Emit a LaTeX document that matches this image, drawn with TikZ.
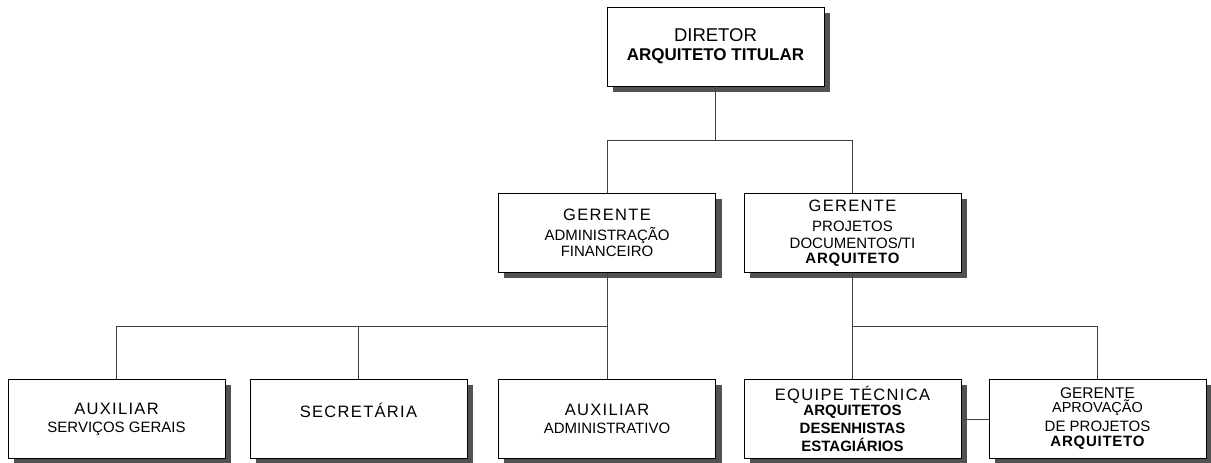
\documentclass[tikz,border=0pt]{standalone}
\usepackage{fontspec}
\setmainfont{Liberation Sans}
\usetikzlibrary{calc}

\newcommand{\titulo}[1]{{\fontsize{16.5}{18}\selectfont\addfontfeature{LetterSpace=8}#1}}
\newcommand{\destaque}[1]{{\bfseries\addfontfeature{LetterSpace=5}#1}}

\begin{document}
\begin{tikzpicture}[x=1pt, y=-1pt,
    cargo/.style={draw, line width=0.8pt, fill=white, minimum width=217pt, minimum height=79pt,
      inner sep=0pt, align=center, font=\fontsize{15}{18}\selectfont},
    sombra/.style={fill=black!68},
    linha/.style={draw=black!75, line width=0.8pt}]
  \useasboundingbox (0,0) rectangle (1211,463);

  % Diretor
  \node[cargo] (dir) at (715.5,46.5) {{\fontsize{18.5}{18}\selectfont DIRETOR}\\[1pt]{\fontsize{17}{18}\selectfont\bfseries ARQUITETO TITULAR}};

  % Gerentes
  \node[cargo] (gadm) at (607,233) {\titulo{GERENTE}\\[2pt]ADMINISTRAÇÃO\\[-2pt]FINANCEIRO};
  \node[cargo] (gproj) at (852.5,233) {\titulo{GERENTE}\\[2pt]PROJETOS\\[-1.5pt]DOCUMENTOS/TI\\[-3pt]\destaque{ARQUITETO}};

  % Setores
  \node[cargo] (aux1) at (116.5,419) {\titulo{AUXILIAR}\\SERVIÇOS GERAIS};
  \node[cargo] (sec) at (358.5,419) {\titulo{SECRETÁRIA}\\\phantom{X}};
  \node[cargo] (aux2) at (607,419) {\titulo{AUXILIAR}\\ADMINISTRATIVO};
  \node[cargo] (equipe) at (852.5,419) {\titulo{EQUIPE TÉCNICA}\\[-3pt]{\bfseries ARQUITETOS}\\{\bfseries DESENHISTAS}\\{\bfseries ESTAGIÁRIOS}};
  \node[cargo] (gaprov) at (1097.5,419) {{\fontsize{15.5}{18}\selectfont GERENTE}\\[-4pt]{\fontsize{14.5}{18}\selectfont APROVAÇÃO}\\[1pt]DE PROJETOS\\[-3pt]\destaque{ARQUITETO}};

  % Sombras
  \foreach \n in {dir,gadm,gproj,aux1,sec,aux2,equipe,gaprov}{
    \fill[sombra] ($(\n.north east)+(0.4,6)$) rectangle ($(\n.south east)+(6,5.5)$);
    \fill[sombra] ($(\n.south west)+(6,0.4)$) rectangle ($(\n.south east)+(6,5.5)$);
  }

  % Ligacoes
  \coordinate (nivel1) at (0,140);
  \coordinate (nivel2) at (0,326);
  \draw[linha] (dir.south) -- (dir.south |- nivel1);
  \draw[linha] (gadm.north) -- (gadm.north |- nivel1) -- (gproj.north |- nivel1) -- (gproj.north);
  \draw[linha] (gadm.south) -- (gadm.south |- nivel2);
  \draw[linha] (aux1.north) -- (aux1.north |- nivel2) -- (aux2.north |- nivel2) -- (aux2.north);
  \draw[linha] (sec.north) -- (sec.north |- nivel2);
  \draw[linha] (gproj.south) -- (equipe.north);
  \draw[linha] (gproj.south |- nivel2) -| (gaprov.north);
  \draw[linha] (equipe.east) -- (gaprov.west);
\end{tikzpicture}
\end{document}
